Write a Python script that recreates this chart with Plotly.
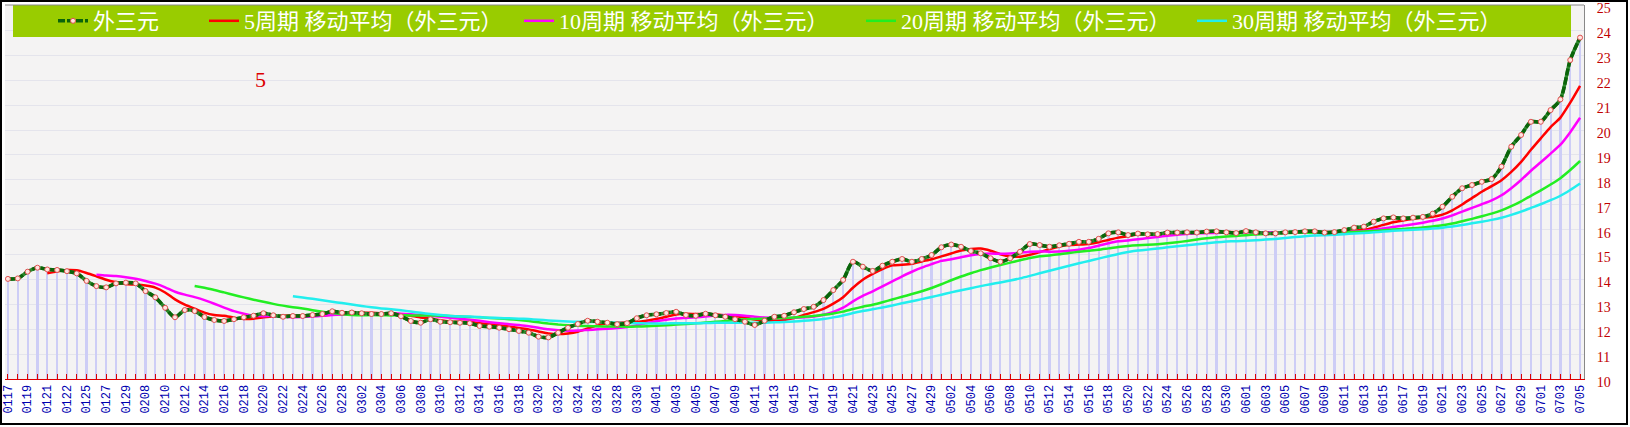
import pandas as pd
import plotly.graph_objects as go

# --- data ---
values = [
    14.02, 14.04, 14.31, 14.47, 14.40, 14.38, 14.33, 14.24, 13.94, 13.73,
    13.68, 13.84, 13.87, 13.84, 13.53, 13.28, 12.86, 12.48, 12.77, 12.73,
    12.49, 12.37, 12.33, 12.40, 12.48, 12.54, 12.64, 12.56, 12.50, 12.53,
    12.53, 12.57, 12.61, 12.72, 12.66, 12.67, 12.64, 12.61, 12.61, 12.64,
    12.52, 12.33, 12.26, 12.40, 12.30, 12.28, 12.26, 12.24, 12.13, 12.10,
    12.06, 12.00, 11.93, 11.86, 11.70, 11.67, 11.86, 12.06, 12.21, 12.34,
    12.30, 12.26, 12.20, 12.24, 12.44, 12.56, 12.60, 12.65, 12.70, 12.57,
    12.54, 12.62, 12.56, 12.50, 12.40, 12.30, 12.17, 12.34, 12.50, 12.54,
    12.68, 12.81, 12.90, 13.17, 13.57, 13.98, 14.71, 14.51, 14.34, 14.55,
    14.71, 14.82, 14.71, 14.82, 14.98, 15.29, 15.40, 15.31, 15.14, 15.05,
    14.85, 14.71, 14.85, 15.11, 15.42, 15.38, 15.31, 15.37, 15.43, 15.51,
    15.51, 15.63, 15.85, 15.89, 15.78, 15.84, 15.81, 15.82, 15.88, 15.88,
    15.89, 15.88, 15.92, 15.93, 15.89, 15.86, 15.94, 15.89, 15.85, 15.85,
    15.89, 15.90, 15.93, 15.93, 15.88, 15.90, 15.98, 16.08, 16.12, 16.32,
    16.45, 16.49, 16.45, 16.48, 16.51, 16.64, 16.92, 17.32, 17.66, 17.79,
    17.92, 18.03, 18.53, 19.33, 19.80, 20.33, 20.33, 20.80, 21.23, 22.81,
    23.71,
]

# every second point carries a date label
date_labels = [
    "0117", "0119", "0121", "0122", "0125", "0127", "0129", "0208", "0210", "0212",
    "0214", "0216", "0218", "0220", "0222", "0224", "0226", "0228", "0302", "0304",
    "0306", "0308", "0310", "0312", "0314", "0316", "0318", "0320", "0322", "0324",
    "0326", "0328", "0330", "0401", "0403", "0405", "0407", "0409", "0411", "0413",
    "0415", "0417", "0419", "0421", "0423", "0425", "0427", "0429", "0502", "0504",
    "0506", "0508", "0510", "0512", "0514", "0516", "0518", "0520", "0522", "0524",
    "0526", "0528", "0530", "0601", "0603", "0605", "0607", "0609", "0611", "0613",
    "0615", "0617", "0619", "0621", "0623", "0625", "0627", "0629", "0701", "0703",
    "0705",
]

ma_periods = [5, 10, 20, 30]
ma_colors = ["#ff0000", "#ff00ff", "#22ee22", "#22eeee"]
series_name = "外三元"

# --- derived ---
s = pd.Series(values)
x = list(range(len(values)))
tick_text = []
for i in x:
    tick_text.append(date_labels[i // 2] if i % 2 == 0 else "")

W, H = 1630, 427
ML, MR, MT, MB = 5, 46, 5, 48
PW, PH = W - ML - MR, H - MT - MB


def px_x(p):
    return (p - ML) / PW


def px_y(p):
    return 1 - (p - MT) / PH


fig = go.Figure()

# lavender drop bars
fig.add_trace(go.Bar(
    x=x, y=values, width=0.22,
    marker=dict(color="#cdcdf6", line=dict(width=0)),
    showlegend=False, hoverinfo="skip",
))

# moving averages
for k, (n, c) in enumerate(zip(ma_periods, ma_colors)):
    fig.add_trace(go.Scatter(
        x=x, y=s.rolling(n).mean(), mode="lines",
        name=f"{n}周期 移动平均（{series_name}）",
        line=dict(color=c, width=2.5, shape="spline", smoothing=0.6),
        legend=f"legend{k + 2}",
    ))

# main series: light green under dark dashes
fig.add_trace(go.Scatter(
    x=x, y=values, mode="lines",
    line=dict(color="#2e8a2e", width=3.5, shape="spline", smoothing=0.8),
    showlegend=False, hoverinfo="skip",
))
fig.add_trace(go.Scatter(
    x=x, y=values, mode="lines+markers", name=series_name,
    line=dict(color="#0a640a", width=3.5, shape="spline", smoothing=0.8, dash="7px,2px"),
    marker=dict(symbol="circle", size=5, color="#ffe4e0", line=dict(color="#e05050", width=1)),
    legend="legend",
))

# legends laid out along the green band
legend_font = dict(family="Liberation Serif, Noto Sans CJK SC", size=22, color="white")
legend_left = [53, 204, 519, 861, 1192]
leg = {}
for k, lx in enumerate(legend_left):
    key = "legend" if k == 0 else f"legend{k + 1}"
    leg[key] = dict(
        x=px_x(lx), xanchor="left", y=px_y(21), yanchor="middle",
        bgcolor="rgba(0,0,0,0)", borderwidth=0, font=legend_font,
        itemwidth=30, orientation="h",
    )

fig.update_layout(
    width=W, height=H,
    margin=dict(l=ML, r=MR, t=MT, b=MB, autoexpand=False),
    paper_bgcolor="white",
    plot_bgcolor="#f4f3f3",
    bargap=0,
    hovermode=False,
    xaxis=dict(
        range=[-0.3, 160.4], tickmode="array", tickvals=x, ticktext=tick_text,
        tickangle=-90, ticks="inside", ticklen=5, tickcolor="#dd0000",
        showline=True, linecolor="#dd0000", linewidth=1,
        showgrid=False, zeroline=False, automargin=False,
        tickfont=dict(family="Liberation Mono", size=12, color="#0000b0"),
    ),
    yaxis=dict(
        range=[10, 25.02], side="right", dtick=1, tick0=10,
        ticks="outside", ticklen=9, tickcolor="rgba(0,0,0,0)",
        showline=True, linecolor="#888888", linewidth=1,
        showgrid=True, gridcolor="#e4e4ec", gridwidth=1, zeroline=False,
        automargin=False, ticklabeloverflow="allow", ticklabelshift=3,
        tickfont=dict(family="Liberation Serif", size=14, color="#c00000"),
    ),
    yaxis2=dict(
        range=[10, 25.02], overlaying="y", side="left", dtick=1, tick0=10,
        ticks="inside", ticklen=5, tickcolor="black",
        showline=True, linecolor="black", linewidth=1,
        showgrid=False, zeroline=False, showticklabels=False, automargin=False,
    ),
    **leg,
)

# green legend band, top frame and outer border
fig.add_shape(type="rect", xref="paper", yref="paper",
              x0=px_x(13), x1=px_x(1571), y0=px_y(37), y1=px_y(5),
              fillcolor="#99cc00", line=dict(width=0), layer="above")
fig.add_shape(type="line", xref="paper", yref="paper",
              x0=0, x1=1, y0=1, y1=1, line=dict(color="#888888", width=1))
fig.add_shape(type="rect", xref="paper", yref="paper",
              x0=px_x(1), x1=px_x(1627), y0=px_y(424), y1=px_y(1),
              line=dict(color="black", width=2), fillcolor="rgba(0,0,0,0)")

fig.add_annotation(
    xref="paper", yref="paper", x=px_x(253), y=px_y(65),
    text="5", showarrow=False,
    font=dict(family="Liberation Serif", size=22, color="#dd0000"),
)

fig.write_html("out.html", config={"displayModeBar": False},
               post_script="document.body.style.margin='0';")
